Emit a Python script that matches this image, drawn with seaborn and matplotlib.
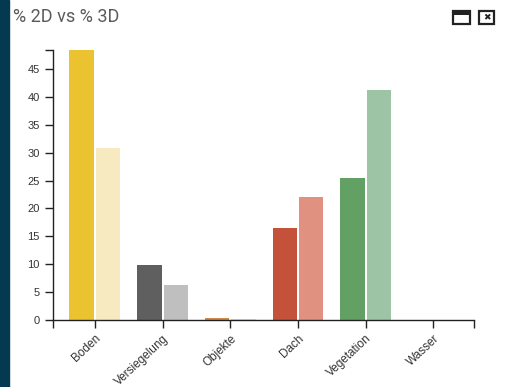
import pandas as pd
import matplotlib
matplotlib.use("Agg")
import matplotlib.pyplot as plt
import matplotlib.patches as mpatches
import seaborn as sns

# data
kategorien = ["Boden", "Versiegelung", "Objekte", "Dach", "Vegetation", "Wasser"]
werte_2d = [48.4, 9.9, 0.35, 16.5, 25.4, 0.0]
werte_3d = [30.8, 6.3, 0.15, 22.0, 41.2, 0.0]
farben_2d = ["#ebc22f", "#5f5f5f", "#d08a4a", "#c4513a", "#62a064", "#4a7fc0"]
farben_3d = ["#f7eac1", "#bfbfbf", "#f3dcc2", "#e0917f", "#9dc4a4", "#a9c4e6"]

df = pd.DataFrame({
    "Kategorie": kategorien * 2,
    "Wert": werte_2d + werte_3d,
    "Typ": ["2D"] * len(kategorien) + ["3D"] * len(kategorien),
})

sns.set_theme(style="white")
plt.rcParams["font.family"] = ["Liberation Sans", "DejaVu Sans"]

W, H = 505, 387
fig = plt.figure(figsize=(W / 100, H / 100), dpi=100)
fig.patch.set_facecolor("white")

# axes placed in pixel terms
left, right, top, bottom = 53, 474, 50, 320
ax = fig.add_axes([left / W, 1 - bottom / H, (right - left) / W, (bottom - top) / H])

sns.barplot(data=df, x="Kategorie", y="Wert", hue="Typ", order=kategorien,
            width=0.78, gap=0.07, legend=False, saturation=1, ax=ax)

for cont, farben in zip(ax.containers, [farben_2d, farben_3d]):
    for bar, c in zip(cont, farben):
        bar.set_facecolor(c)
        bar.set_edgecolor("none")

ymax = max(werte_2d + werte_3d)
ax.set_ylim(0, ymax)
ax.set_xlim(-0.62, 5.6)
ax.set_yticks(range(0, 50, 5))
ax.set_yticks([ymax], minor=True)
ax.set_xticks([-0.62, 5.6], minor=True)
ax.set_xlabel("")
ax.set_ylabel("")

for s in ["top", "right"]:
    ax.spines[s].set_visible(False)
for s in ["left", "bottom"]:
    ax.spines[s].set_color("#222222")
    ax.spines[s].set_linewidth(1)

ax.tick_params(axis="both", which="both", direction="out", length=6, width=1,
               color="#222222", labelcolor="#333333")
ax.tick_params(axis="y", labelsize=8)
ax.tick_params(axis="x", labelsize=8.5, pad=3)
ax.tick_params(axis="both", which="minor", bottom=True, left=True)
ax.tick_params(axis="both", which="major", bottom=True, left=True)
plt.setp(ax.get_xticklabels(), rotation=43, ha="right", rotation_mode="anchor")

# dark stripe on the left edge
fig.patches.append(mpatches.Rectangle((0, 0), 9 / W, 1, transform=fig.transFigure,
                                      color="#033a52", zorder=0))

# panel title
fig.text(13 / W, 1 - 17 / H, "% 2D vs % 3D", fontsize=13, color="#5a5a5a",
         family=["Roboto", "DejaVu Sans"], va="center", ha="left")

# window icons top right
def px_rect(x, y, w, h, **kw):
    return mpatches.Rectangle((x / W, 1 - (y + h) / H), w / W, h / H,
                              transform=fig.transFigure, **kw)

fig.patches.append(px_rect(453, 11, 17, 13, facecolor="white", edgecolor="#222222", linewidth=1.6))
fig.patches.append(px_rect(453, 11, 17, 4, facecolor="#222222", edgecolor="none"))
fig.patches.append(px_rect(479, 11, 15, 13, facecolor="white", edgecolor="#222222", linewidth=1.6))
fig.text(486.5 / W, 1 - 17.5 / H, "✖", fontsize=6.5, color="#222222",
         family=["DejaVu Sans"], ha="center", va="center")

fig.savefig("out.png", dpi=100)
